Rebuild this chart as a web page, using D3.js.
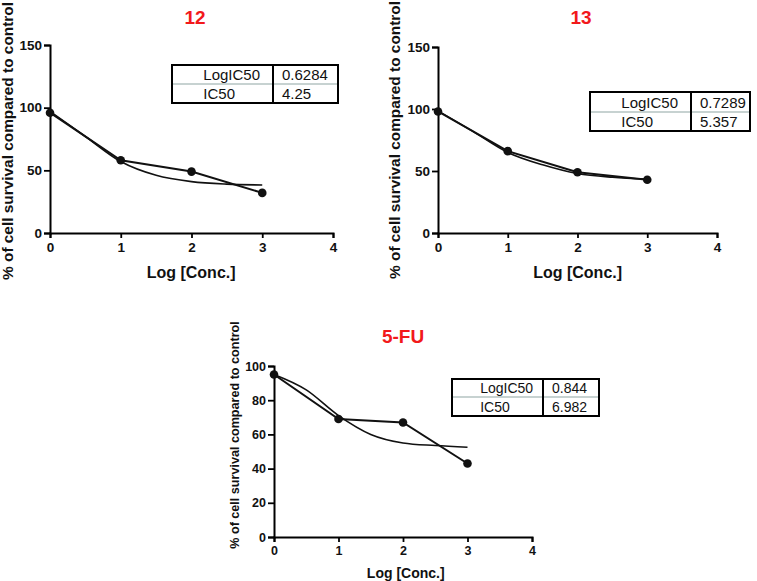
<!DOCTYPE html>
<html>
<head>
<meta charset="utf-8">
<script src="https://cdn.jsdelivr.net/npm/d3@7"></script>
<style>
  body { margin: 0; background: #fff; }
  svg { display: block; font-family: "Liberation Sans", Arial, sans-serif; }
</style>
</head>
<body>
<svg class="chart" width="757" height="581"></svg>
<script>
// data
const logConc = [0, 1, 2, 3];
const survival12 = [96, 58, 49, 32];
const survival13 = [98, 66, 49, 43];
const survival5FU = [95, 69, 67, 43];

// fitted curves, read at half steps
const fitLogConc = [0, 0.5, 1, 1.5, 2, 2.5, 3];
const fit12 = [97, 77, 57, 46, 41, 39, 38.3];
const fit13 = [98.5, 82, 65, 55, 48, 45, 43.5];
const fit5FU = [95, 86, 71, 60, 55, 53.5, 52.5];

const xTicks = [0, 1, 2, 3, 4];
const yTicks150 = [0, 50, 100, 150];
const yTicks100 = [0, 20, 40, 60, 80, 100];

const tableRows12 = [['LogIC50', '0.6284'], ['IC50', '4.25']];
const tableRows13 = [['LogIC50', '0.7289'], ['IC50', '5.357']];
const tableRows5FU = [['LogIC50', '0.844'], ['IC50', '6.982']];

const yLabelText = '% of cell survival compared to control';
const xLabelText = 'Log [Conc.]';

const svg = d3.select('svg.chart');

const panels = [
  {
    title: '12', values: survival12, fit: fit12, yMax: 150, yTicks: yTicks150,
    left: 50, right: 333, top: 45, bottom: 233,
    titleX: 195, titleY: 24, titleSize: 19,
    yLabelX: 13, yLabelY: 141, yLabelSize: 15.4,
    xLabelY: 278, xLabelSize: 16, tickSize: 13.5,
    table: tableRows12, tX: 172, tDiv: 273, tRight: 338, tTop: 65, tMid: 84, tBottom: 103, tSize: 15
  },
  {
    title: '13', values: survival13, fit: fit13, yMax: 150, yTicks: yTicks150,
    left: 438, right: 717, top: 47, bottom: 233,
    titleX: 581, titleY: 24, titleSize: 19,
    yLabelX: 400, yLabelY: 140, yLabelSize: 15.4,
    xLabelY: 278, xLabelSize: 16, tickSize: 13.5,
    table: tableRows13, tX: 590, tDiv: 691, tRight: 750, tTop: 92, tMid: 112, tBottom: 131, tSize: 15
  },
  {
    title: '5-FU', values: survival5FU, fit: fit5FU, yMax: 100, yTicks: yTicks100,
    left: 274, right: 532, top: 366, bottom: 537,
    titleX: 403, titleY: 343, titleSize: 19,
    yLabelX: 239, yLabelY: 435, yLabelSize: 12.6,
    xLabelY: 578, xLabelSize: 14, tickSize: 12.5,
    table: tableRows5FU, tX: 452, tDiv: 543, tRight: 599, tTop: 379, tMid: 397, tBottom: 416, tSize: 14
  }
];

function drawPanel(p) {
  const g = svg.append('g');
  const x = d3.scaleLinear().domain([0, 4]).range([p.left, p.right]);
  const y = d3.scaleLinear().domain([0, p.yMax]).range([p.bottom, p.top]);

  // x axis
  const xAxis = g.append('g')
    .attr('transform', `translate(0,${p.bottom})`)
    .call(d3.axisBottom(x).tickValues(xTicks).tickFormat(d3.format('d')).tickSizeOuter(0).tickSize(5).tickPadding(4));

  // y axis
  const yAxis = g.append('g')
    .attr('transform', `translate(${p.left},0)`)
    .call(d3.axisLeft(y).tickValues(p.yTicks).tickSizeOuter(0).tickSize(6).tickPadding(2));

  [xAxis, yAxis].forEach((ax) => {
    ax.select('.domain').attr('stroke', '#000').attr('stroke-width', 2);
    ax.selectAll('.tick line').attr('stroke', '#000').attr('stroke-width', 1.8);
    ax.selectAll('.tick text')
      .attr('fill', '#111')
      .attr('font-family', '"Liberation Sans", Arial, sans-serif')
      .attr('font-weight', 'bold')
      .attr('font-size', p.tickSize);
  });

  // fitted curve
  const fitLine = d3.line()
    .x((d, i) => x(fitLogConc[i]))
    .y((d) => y(d))
    .curve(d3.curveMonotoneX);

  g.append('path')
    .datum(p.fit)
    .attr('d', fitLine)
    .attr('fill', 'none')
    .attr('stroke', '#111')
    .attr('stroke-width', 1.6);

  // data line
  const dataLine = d3.line()
    .x((d, i) => x(logConc[i]))
    .y((d) => y(d));

  g.append('path')
    .datum(p.values)
    .attr('d', dataLine)
    .attr('fill', 'none')
    .attr('stroke', '#111')
    .attr('stroke-width', 2);

  g.selectAll('circle.pt')
    .data(p.values)
    .join('circle')
    .attr('class', 'pt')
    .attr('cx', (d, i) => x(logConc[i]))
    .attr('cy', (d) => y(d))
    .attr('r', 4.3)
    .attr('fill', '#111');

  // title
  g.append('text')
    .attr('x', p.titleX)
    .attr('y', p.titleY)
    .attr('text-anchor', 'middle')
    .attr('font-weight', 'bold')
    .attr('font-size', p.titleSize)
    .attr('fill', '#f2191b')
    .text(p.title);

  // axis titles
  g.append('text')
    .attr('x', (p.left + x(3)) / 2 + 35)
    .attr('y', p.xLabelY)
    .attr('text-anchor', 'middle')
    .attr('font-weight', 'bold')
    .attr('font-size', p.xLabelSize)
    .attr('fill', '#111')
    .text(xLabelText);

  g.append('text')
    .attr('transform', `translate(${p.yLabelX},${p.yLabelY}) rotate(-90)`)
    .attr('text-anchor', 'middle')
    .attr('font-weight', 'bold')
    .attr('font-size', p.yLabelSize)
    .attr('fill', '#111')
    .text(yLabelText);

  // IC50 table
  const t = g.append('g');
  t.append('rect')
    .attr('x', p.tX)
    .attr('y', p.tTop)
    .attr('width', p.tRight - p.tX)
    .attr('height', p.tBottom - p.tTop)
    .attr('fill', '#fff')
    .attr('stroke', '#000')
    .attr('stroke-width', 2);

  t.append('line')
    .attr('x1', p.tX + 1).attr('x2', p.tRight - 1)
    .attr('y1', p.tMid).attr('y2', p.tMid)
    .attr('stroke', '#8fa5a3')
    .attr('stroke-width', 1.2);

  t.append('line')
    .attr('x1', p.tDiv).attr('x2', p.tDiv)
    .attr('y1', p.tTop).attr('y2', p.tBottom)
    .attr('stroke', '#000')
    .attr('stroke-width', 2);

  const rowBottoms = [p.tMid, p.tBottom];
  p.table.forEach((row, i) => {
    t.append('text')
      .attr('x', p.tX + (p.tDiv - p.tX) * 0.31)
      .attr('y', rowBottoms[i] - 4)
      .attr('font-size', p.tSize)
      .attr('fill', '#111')
      .text(row[0]);

    t.append('text')
      .attr('x', p.tDiv + 9)
      .attr('y', rowBottoms[i] - 4)
      .attr('font-size', p.tSize)
      .attr('fill', '#111')
      .text(row[1]);
  });
}

panels.forEach(drawPanel);
</script>
</body>
</html>
